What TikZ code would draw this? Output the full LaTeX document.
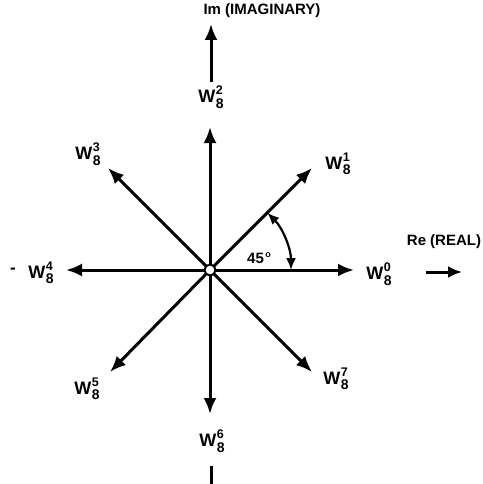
\documentclass[tikz,border=0pt]{standalone}
\usepackage{fontspec}
\setmainfont{Liberation Sans}
\usetikzlibrary{arrows.meta,calc}
\newcommand{\wl}[1]{\fontsize{18}{19}\selectfont\bfseries W\kern0.5pt\raisebox{0.45em}{\rlap{\fontsize{12.5}{12}\selectfont #1}}\raisebox{-0.3em}{\fontsize{14}{13}\selectfont 8}}
\tikzset{
  vec/.style={line width=3pt,-{Latex[length=16pt,width=13pt]}},
  lab/.style={inner sep=0pt,font=\bfseries},
  axlab/.style={inner sep=0pt,font=\fontsize{15}{16}\selectfont\bfseries}
}
\begin{document}
\begin{tikzpicture}[x=1pt,y=-1pt]
\useasboundingbox (0,0) rectangle (482,484);
\coordinate (C) at (210,270);
\coordinate (tE) at (354,270);
\coordinate (tW) at (66,270);
\coordinate (tN) at (210,127);
\coordinate (tS) at (210,414);
\coordinate (tNE) at (312,168);
\coordinate (tNW) at (108,168);
\coordinate (tSW) at (110,372);
\coordinate (tSE) at (312,372);
\foreach \t in {tE,tW,tN,tS,tNE,tNW,tSW,tSE} \draw[vec] (C) -- (\t);
\node[draw,circle,fill=white,line width=2pt,minimum size=11pt,inner sep=0pt] (O) at (C) {};
% labels
\node[lab] (w0) at (379,274) {\wl{0}};
\node[lab] (w1) at (338,164) {\wl{1}};
\node[lab] (w2) at (211,97) {\wl{2}};
\node[lab] (w3) at (88,154) {\wl{3}};
\node[lab] (w4) at (41,273) {\wl{4}};
\node[lab] (w5) at (87,389) {\wl{5}};
\node[lab] (w6) at (212,441) {\wl{6}};
\node[lab] (w7) at (336,379) {\wl{7}};
\node[lab,font=\fontsize{17}{18}\selectfont\bfseries] (m) at (13,271) {-};
% axes
\node[axlab] (im) at (262,11) {Im (IMAGINARY)};
\coordinate (imb) at (211,82);
\coordinate (imt) at (211,24);
\draw[vec] (imb) -- (imt);
\node[axlab] (re) at (444,242) {Re (REAL)};
\coordinate (reb) at (426,272);
\coordinate (ret) at (462,272);
\draw[vec,-{Latex[length=14pt,width=12pt]}] (reb) -- (ret);
\coordinate (bt) at (211,466);
\coordinate (bb) at (211,484);
\draw[line width=3pt] (bt) -- (bb);
% 45 degree arc
\coordinate (a1) at ($(C)+(-45:81)$);
\draw[line width=2.2pt,{Latex[length=12pt,width=10pt]}-{Latex[length=12pt,width=10pt]}] (a1) arc[start angle=-45,end angle=0,radius=81];
\node[axlab,font=\fontsize{15}{16}\selectfont\bfseries] (deg) at (259,258) {45\kern1.5pt\raisebox{0.35em}{\fontsize{9}{9}\selectfont o}};
\end{tikzpicture}
\end{document}
